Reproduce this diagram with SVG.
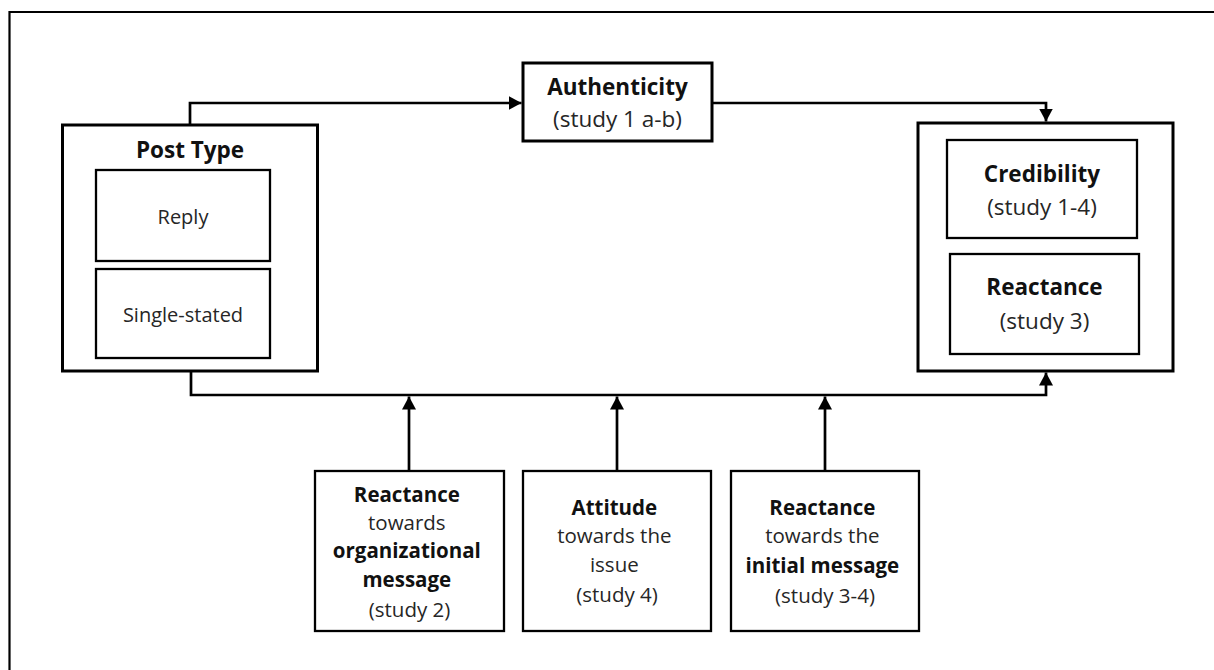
<svg xmlns="http://www.w3.org/2000/svg" width="1214" height="670" viewBox="0 0 1214 670">
  <style>
    text { font-family: "Open Sans", "Noto Sans", sans-serif; text-anchor: middle; fill: #262626; }
    .b { font-weight: bold; fill: #111; }
    .h { font-size: 22.5px; }
    .s { font-size: 20px; }
    .m { font-size: 20.5px; }
    .outer { fill: #fff; stroke: #000; stroke-width: 3; }
    .inner { fill: #fff; stroke: #000; stroke-width: 2.3; }
    .conn { fill: none; stroke: #000; stroke-width: 2.7; }
    .frame { fill: none; stroke: #000; stroke-width: 2.2; }
  </style>
  <defs>
    <marker id="arrow" viewBox="0 -7 13 14" refX="13" refY="0" markerWidth="13" markerHeight="14" markerUnits="userSpaceOnUse" orient="auto">
      <path d="M0,-7 L13,0 L0,7 z" fill="#000"/>
    </marker>
  </defs>

  <rect width="1214" height="670" fill="#fff"/>
  <!-- page frame (top and left edges) -->
  <polyline class="frame" points="9.5,670 9.5,12 1214,12"/>

  <g id="connectors">
    <path class="conn" d="M190,124 V103 H521.5" marker-end="url(#arrow)"/>
    <path class="conn" d="M712,103 H1046 V121.5" marker-end="url(#arrow)"/>
    <path class="conn" d="M191,372 V395 H1046 V372.5" marker-end="url(#arrow)"/>
    <path class="conn" d="M409,471 V396.5" marker-end="url(#arrow)"/>
    <path class="conn" d="M617,471 V396.5" marker-end="url(#arrow)"/>
    <path class="conn" d="M825,471 V396.5" marker-end="url(#arrow)"/>
  </g>

  <g id="post-type">
    <rect class="outer" x="62.5" y="125" width="255" height="246"/>
    <text class="b h" x="190" y="158">Post Type</text>
    <g id="reply">
      <rect class="inner" x="96" y="170" width="174" height="91"/>
      <text class="s" x="183" y="224">Reply</text>
    </g>
    <g id="single-stated">
      <rect class="inner" x="96" y="269" width="174" height="89"/>
      <text class="s" x="183" y="322">Single-stated</text>
    </g>
  </g>

  <g id="authenticity">
    <rect class="outer" x="523" y="63" width="189" height="78"/>
    <text class="b h" x="617.5" y="95">Authenticity</text>
    <text class="h" x="617.5" y="127">(study 1 a-b)</text>
  </g>

  <g id="outcomes">
    <rect class="outer" x="918" y="123" width="255" height="248"/>
    <g id="credibility">
      <rect class="inner" x="947" y="140" width="190" height="98"/>
      <text class="b h" x="1042" y="182">Credibility</text>
      <text class="h" x="1042" y="215">(study 1-4)</text>
    </g>
    <g id="reactance-outcome">
      <rect class="inner" x="950" y="254" width="189" height="100"/>
      <text class="b h" x="1044.5" y="295">Reactance</text>
      <text class="h" x="1044.5" y="329">(study 3)</text>
    </g>
  </g>

  <g id="reactance-organizational">
    <rect class="inner" x="315" y="471" width="189" height="160"/>
    <text class="m" x="409.5">
      <tspan class="b" x="409.5" y="502">Reactance</tspan>
      <tspan x="409.5" y="530">towards</tspan>
      <tspan class="b" x="409.5" y="558">organizational</tspan>
      <tspan class="b" x="409.5" y="587">message</tspan>
      <tspan x="409.5" y="617">(study 2)</tspan>
    </text>
  </g>

  <g id="attitude">
    <rect class="inner" x="523" y="471" width="188" height="160"/>
    <text class="m" x="617">
      <tspan class="b" x="617" y="515">Attitude</tspan>
      <tspan x="617" y="543">towards the</tspan>
      <tspan x="617" y="572">issue</tspan>
      <tspan x="617" y="602">(study 4)</tspan>
    </text>
  </g>

  <g id="reactance-initial">
    <rect class="inner" x="731" y="471" width="188" height="160"/>
    <text class="m" x="825">
      <tspan class="b" x="825" y="515">Reactance</tspan>
      <tspan x="825" y="543">towards the</tspan>
      <tspan class="b" x="825" y="573">initial message</tspan>
      <tspan x="825" y="603">(study 3-4)</tspan>
    </text>
  </g>
</svg>
